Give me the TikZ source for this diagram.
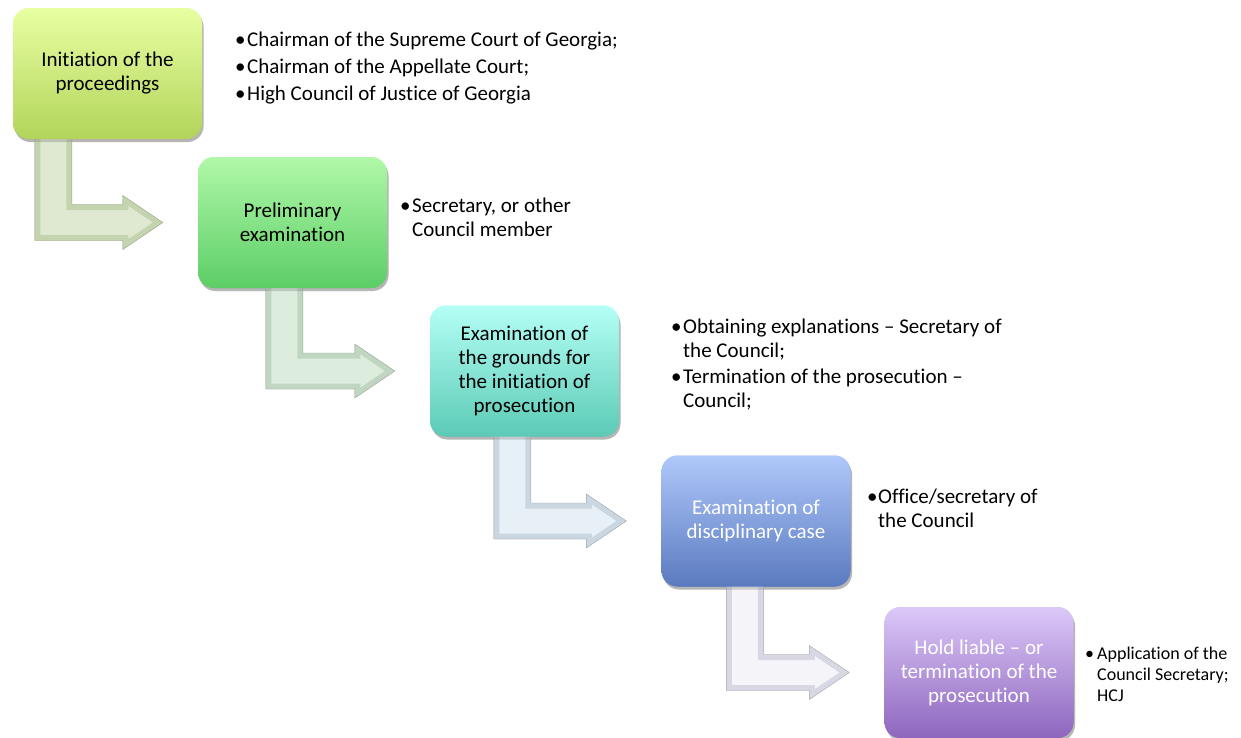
\documentclass[tikz,border=0pt]{standalone}
\usepackage{fontspec}
\setmainfont{Carlito}[Ligatures=NoCommon]
\usetikzlibrary{calc,shadows}
\definecolor{b1t}{HTML}{E8FFA2}\definecolor{b1b}{HTML}{B2D45A}
\definecolor{b2t}{HTML}{B0F8A8}\definecolor{b2b}{HTML}{5CCE66}
\definecolor{b3t}{HTML}{B4FFF6}\definecolor{b3b}{HTML}{5CCAB6}
\definecolor{b4t}{HTML}{B0C8FA}\definecolor{b4b}{HTML}{5A7AC0}
\definecolor{b5t}{HTML}{DCC8F8}\definecolor{b5b}{HTML}{8E66BE}
\definecolor{a1f}{HTML}{DFE9D2}\definecolor{a1e}{HTML}{C4D4AE}
\definecolor{a2f}{HTML}{DDEDDD}\definecolor{a2e}{HTML}{C0D6C2}
\definecolor{a3f}{HTML}{E8F0F7}\definecolor{a3e}{HTML}{CAD6E0}
\definecolor{a4f}{HTML}{F4F4F9}\definecolor{a4e}{HTML}{D8D8E4}
\newcommand\bul[1]{\makebox[#1][l]{•}}
% bent block arrow from node #1 (x offset #2) to node #3; face #4, edge #5
\newcommand\bentarrow[5]{%
  \def\ap{let \p1=(#1.south west), \p2=(#3.west) in
    (\x1+#2pt,\y1+6pt) -- (\x1+#2pt+37pt,\y1+6pt) -- (\x1+#2pt+37pt,\y2+18pt)
    -- (\x2-75pt,\y2+18pt) -- (\x2-75pt,\y2+27pt) -- (\x2-35pt,\y2)
    -- (\x2-75pt,\y2-27pt) -- (\x2-75pt,\y2-18pt) -- (\x1+#2pt,\y2-18pt) -- cycle}%
  \begin{scope}[shift={(-1.5pt,-2.5pt)}]\fill[gray!75,opacity=.8] \ap;\end{scope}
  \fill[#4] \ap;
  \begin{scope}\clip \ap; \draw[#5,line width=11pt,line join=miter] \ap;\end{scope}
  \draw[#5!80!black,line width=.4pt] \ap;
}
\tikzset{
  stepbox/.style={rounded corners=16pt, minimum width=189pt, minimum height=131pt,
    align=center, inner sep=0pt,
    font=\fontsize{21}{24}\selectfont,
    drop shadow={opacity=.35, shadow xshift=1.5pt, shadow yshift=-3pt}},
  blist/.style={anchor=base west, inner sep=0pt}
}
\begin{document}
\begin{tikzpicture}[x=1pt,y=-1pt]
\useasboundingbox (0,0) rectangle (1241,737);
\node[stepbox, top color=b1t, bottom color=b1b] (b1) at (107.5,73.5) {Initiation of the\\proceedings};
\node[stepbox, top color=b2t, bottom color=b2b] (b2) at (292.5,222.5) {Preliminary\\examination};
\node[stepbox, top color=b3t, bottom color=b3b] (b3) at (524.5,371) {Examination of\\the grounds for\\the initiation of\\prosecution};
\node[stepbox, top color=b4t, bottom color=b4b, text=white] (b4) at (756,521) {Examination of\\disciplinary case};
\node[stepbox, top color=b5t, bottom color=b5b, text=white] (b5) at (979,672.5) {Hold liable -- or\\termination of the\\prosecution};
\bentarrow{b1}{22}{b2}{a1f}{a1e}
\bentarrow{b2}{68}{b3}{a2f}{a2e}
\bentarrow{b3}{64}{b4}{a3f}{a3e}
\bentarrow{b4}{65}{b5}{a4f}{a4e}
% redraw boxes on top of arrows
\node[stepbox, top color=b1t, bottom color=b1b] at (b1) {Initiation of the\\proceedings};
\node[stepbox, top color=b2t, bottom color=b2b] at (b2) {Preliminary\\examination};
\node[stepbox, top color=b3t, bottom color=b3b] at (b3) {Examination of\\the grounds for\\the initiation of\\prosecution};
\node[stepbox, top color=b4t, bottom color=b4b, text=white] at (b4) {Examination of\\disciplinary case};
\node[stepbox, top color=b5t, bottom color=b5b, text=white] at (b5) {Hold liable -- or\\termination of the\\prosecution};
% bullet lists
\node[blist, font=\fontsize{21}{27}\selectfont] (l1) at (235,46)
  {\begin{tabular}[t]{@{}l@{}l@{}}\bul{12pt}&Chairman of the Supreme Court of Georgia;\\
   \bul{12pt}&Chairman of the Appellate Court;\\ \bul{12pt}&High Council of Justice of Georgia\end{tabular}};
\node[blist, font=\fontsize{21}{24}\selectfont] (l2) at (400,212)
  {\begin{tabular}[t]{@{}l@{}l@{}}\bul{12pt}&Secretary, or other\\ &Council member\end{tabular}};
\node[blist, font=\fontsize{21}{24}\selectfont] (l3) at (671,333)
  {\begin{tabular}[t]{@{}l@{}l@{}}\bul{12pt}&Obtaining explanations -- Secretary of\\ &the Council;\\[2pt]
   \bul{12pt}&Termination of the prosecution --\\ &Council;\end{tabular}};
\node[blist, font=\fontsize{21}{24}\selectfont] (l4) at (867,503)
  {\begin{tabular}[t]{@{}l@{}l@{}}\bul{11pt}&Office/secretary of\\ &the Council\end{tabular}};
\node[blist, font=\fontsize{18}{21}\selectfont] (l5) at (1085,659)
  {\begin{tabular}[t]{@{}l@{}l@{}}\bul{12pt}&Application of the\\ &Council Secretary;\\ &HCJ\end{tabular}};
\end{tikzpicture}
\end{document}
